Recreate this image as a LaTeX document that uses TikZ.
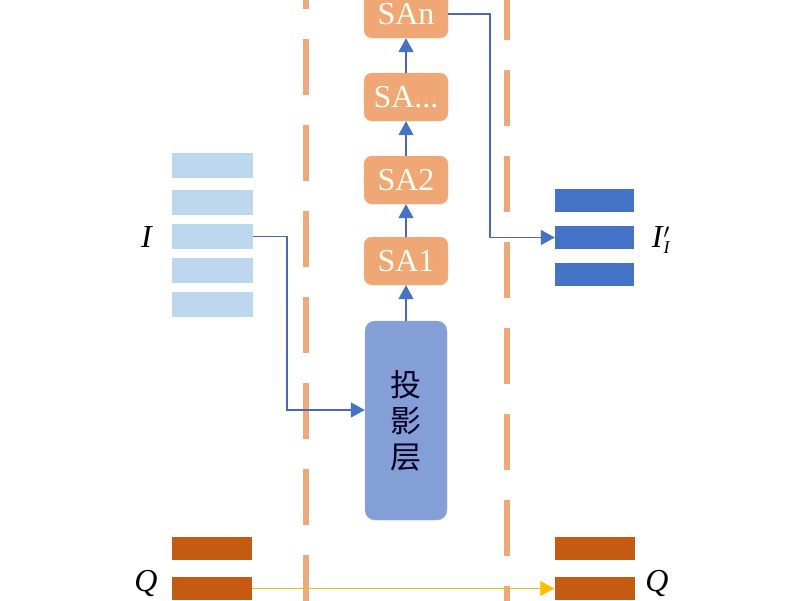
\documentclass[tikz,border=0pt]{standalone}
\usepackage{fontspec}
\setmainfont{Liberation Serif}
\newfontfamily\cjk{Noto Sans CJK SC}
\usetikzlibrary{arrows.meta}
\definecolor{saorange}{HTML}{EFA776}
\definecolor{dashorange}{HTML}{EFA77C}
\definecolor{lightblue}{HTML}{BDD7EE}
\definecolor{darkblue}{HTML}{4472C4}
\definecolor{projblue}{HTML}{849FD6}
\definecolor{brown}{HTML}{C55A11}
\definecolor{linkblue}{HTML}{4A6AAE}
\definecolor{qyellow}{HTML}{E2C21A}
\definecolor{tipyellow}{HTML}{FFC000}
\tikzset{
  sabox/.style={draw=saorange!80, fill=saorange, rounded corners=8pt, minimum width=84pt, minimum height=48pt, inner sep=0pt, text=white!95!yellow, font=\fontsize{32}{32}\selectfont},
  projbox/.style={draw=projblue!85!white, fill=projblue, rounded corners=10pt, minimum width=82pt, minimum height=199pt, inner sep=0pt, text=black!85!blue, font=\cjk\fontsize{31}{36}\selectfont, align=center},
  ibar/.style={fill=lightblue, minimum width=81pt, minimum height=25pt, inner sep=0pt},
  obar/.style={fill=darkblue, minimum width=79pt, minimum height=23pt, inner sep=0pt},
  qbar/.style={fill=brown, minimum width=80pt, minimum height=23pt, inner sep=0pt},
  link/.style={draw=linkblue, line width=1.4pt, -{Triangle[width=15pt,length=14pt,color=darkblue]}},
  qlink/.style={draw=qyellow, line width=1.3pt, -{Triangle[width=15pt,length=14pt,color=tipyellow]}},
  sep/.style={draw=dashorange, line width=6pt, dash pattern=on 56pt off 30pt},
  lbl/.style={font=\fontsize{32}{32}\selectfont, inner sep=0pt}
}
\begin{document}
\begin{tikzpicture}[x=1pt,y=-1pt]
\useasboundingbox (0,0) rectangle (800,600);
\clip (0,0) rectangle (800,600);
\fill[white] (0,0) rectangle (800,600);
% separators
\draw[sep] (306,-47) -- (306,650);
\draw[sep] (507,-16) -- (507,650);
% center column
\node[projbox] (proj) at (406,420.5) {投\\影\\层};
\node[sabox] (sa1) at (406,261) {SA1};
\node[sabox] (sa2) at (406,180) {SA2};
\node[sabox] (sa3) at (406,97) {SA...};
\node[sabox] (san) at (406,14) {SAn};
\draw[link] (proj.north) -- (sa1.south);
\draw[link] (sa1.north) -- (sa2.south);
\draw[link] (sa2.north) -- (sa3.south);
\draw[link] (sa3.north) -- (san.south);
% input bars
\node[ibar] (i1) at (212,165.5) {};
\node[ibar] (i2) at (212,202.5) {};
\node[ibar] (i3) at (212,236.5) {};
\node[ibar] (i4) at (212,270.5) {};
\node[ibar] (i5) at (212,304.5) {};
\node[lbl] (il) at (147,237) {\textit{I}};
% output bars
\node[obar] (o1) at (594.5,200.5) {};
\node[obar] (o2) at (594.5,237.5) {};
\node[obar] (o3) at (594.5,274.5) {};
\node[lbl] (ol) at (661,240) {\textit{I}$^{\prime}_{\textit{\fontsize{18}{18}\selectfont I}}$};
% Q bars
\node[qbar] (ql1) at (212,548.5) {};
\node[qbar] (ql2) at (212,588.5) {};
\node[qbar] (qr1) at (594.5,548.5) {};
\node[qbar] (qr2) at (594.5,588.5) {};
\node[lbl] (qll) at (146,583) {\textit{Q}};
\node[lbl] (qrl) at (657,583) {\textit{Q}};
% connectors
\coordinate (c1) at (287,236.5);
\coordinate (c2) at (287,410);
\draw[link] (i3.east) -- (c1) -- (c2) -- (c2 -| proj.west);
\coordinate (c3) at (490,14);
\coordinate (c4) at (490,237.5);
\draw[link] (san.east) -- (c3) -- (c4) -- (o2.west);
\draw[qlink] (ql2.east) -- (qr2.west);
\end{tikzpicture}
\end{document}
